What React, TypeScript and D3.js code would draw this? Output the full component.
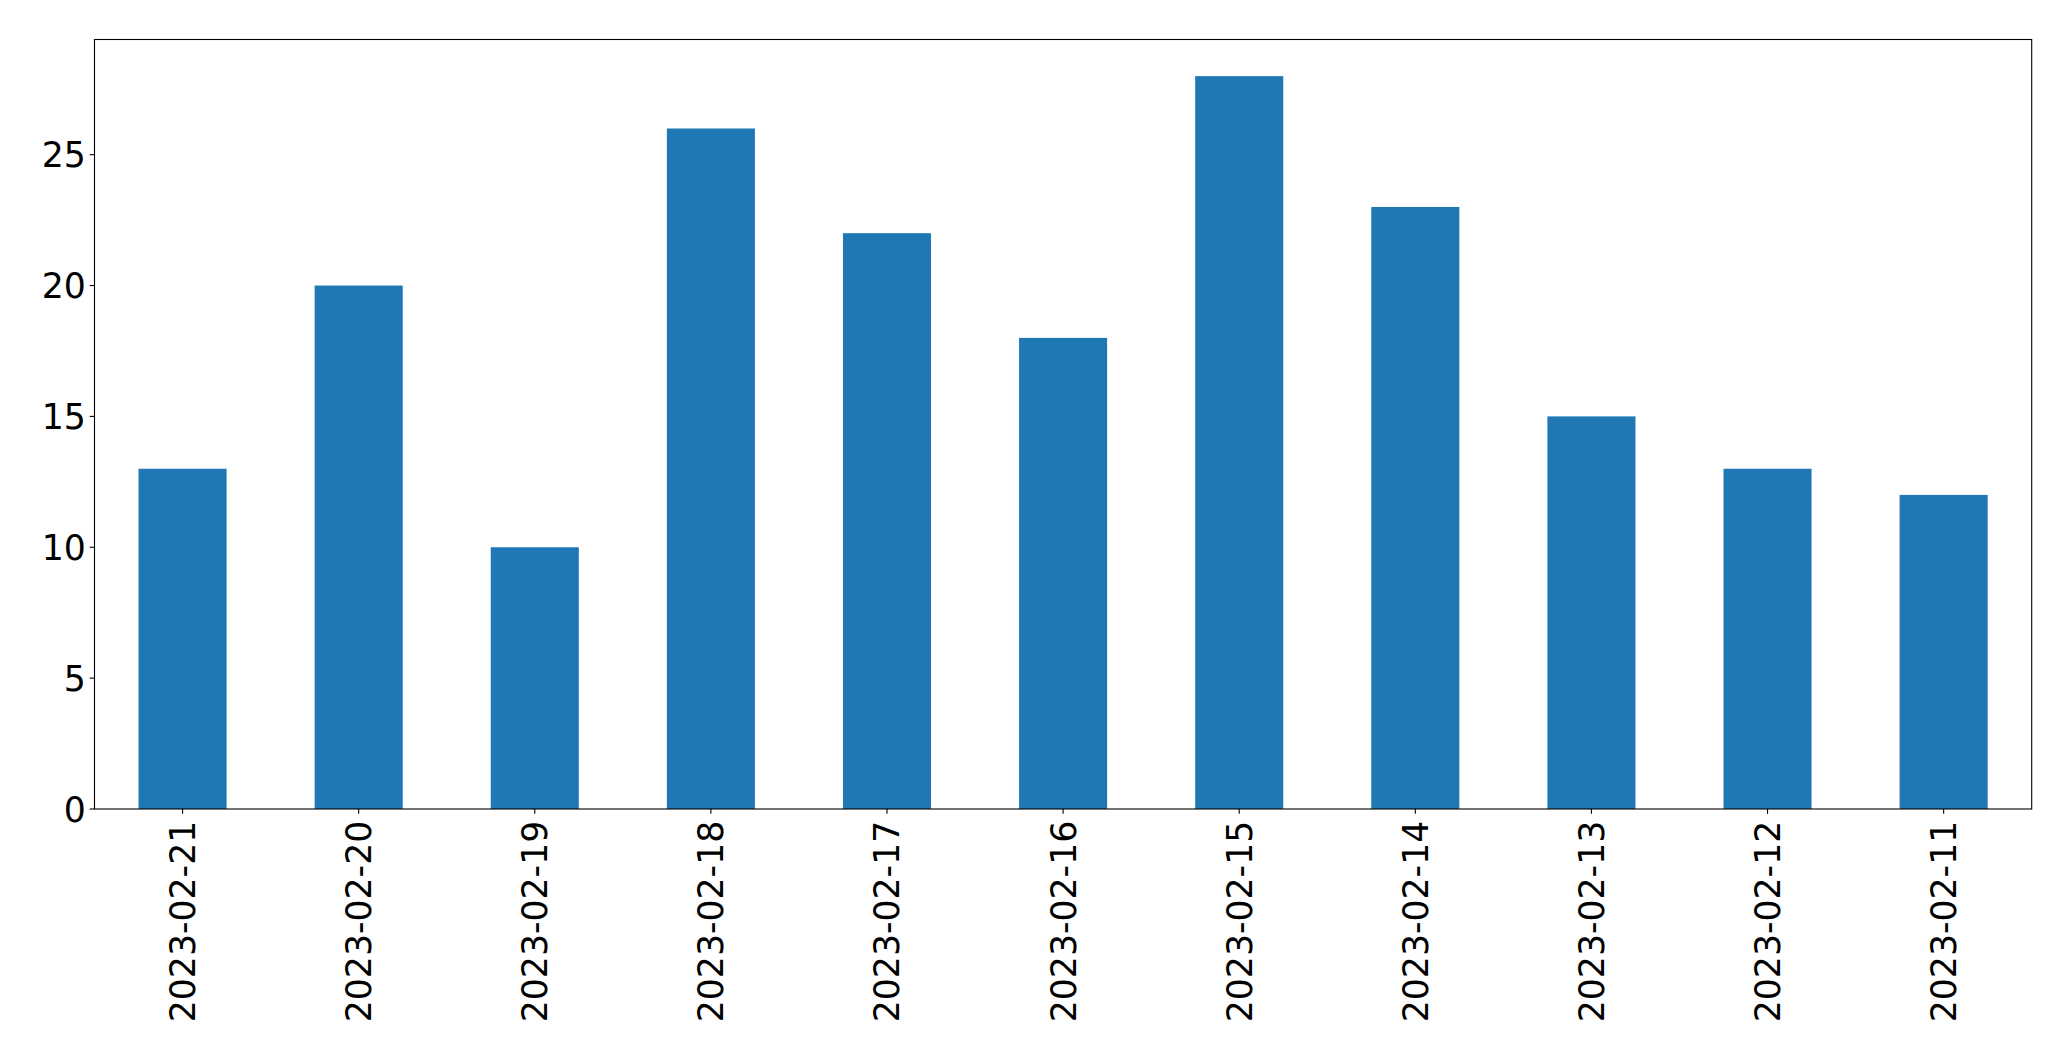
import React from "react";
import * as d3 from "d3";

const categories = [
  "2023-02-21", "2023-02-20", "2023-02-19", "2023-02-18", "2023-02-17", "2023-02-16",
  "2023-02-15", "2023-02-14", "2023-02-13", "2023-02-12", "2023-02-11",
];
const values = [13, 20, 10, 26, 22, 18, 28, 23, 15, 13, 12];
const yTicks = [0, 5, 10, 15, 20, 25];

const W = 2071;
const H = 1061;
const left = 94.5;
const right = 2031.7;
const top = 39.5;
const bottom = 809;
const fontSize = 34.7;
const tickLen = 4.86;
const pad = 4.86;

export default function App() {
  const x = d3.scaleBand<string>().domain(categories).range([left, right]).paddingInner(0.5).paddingOuter(0.25);
  const yMax = d3.max(values)! * 1.05;
  const y = d3.scaleLinear().domain([0, yMax]).range([bottom, top]);
  return (
    <svg width={W} height={H} style={{ position: "absolute", left: 0, top: 0, background: "#fff" }}
      fontFamily="'DejaVu Sans', sans-serif">
      <rect x={0} y={0} width={W} height={H} fill="#fff" />
      {categories.map((c, i) => (
        <rect key={c} x={x(c)} y={y(values[i])} width={x.bandwidth()} height={y(0) - y(values[i])} fill="#1f77b4" />
      ))}
      <rect x={left} y={top} width={right - left} height={bottom - top} fill="none" stroke="#000" strokeWidth={1.1} />
      {yTicks.map((t) => (
        <g key={t} transform={`translate(${left},${y(t)})`}>
          <line x1={-tickLen} x2={0} stroke="#000" strokeWidth={1.1} />
          <text x={-tickLen - pad + 1} dy="0.36em" textAnchor="end" fontSize={fontSize} fill="#000">{t}</text>
        </g>
      ))}
      {categories.map((c) => {
        const cx = x(c)! + x.bandwidth() / 2;
        return (
          <g key={c} transform={`translate(${cx},${bottom})`}>
            <line y1={0} y2={tickLen} stroke="#000" strokeWidth={1.1} />
            <text transform={`translate(0,${tickLen + pad + 2}) rotate(-90)`} dy="0.36em" textAnchor="end" fontSize={fontSize} fill="#000">{c}</text>
          </g>
        );
      })}
    </svg>
  );
}
